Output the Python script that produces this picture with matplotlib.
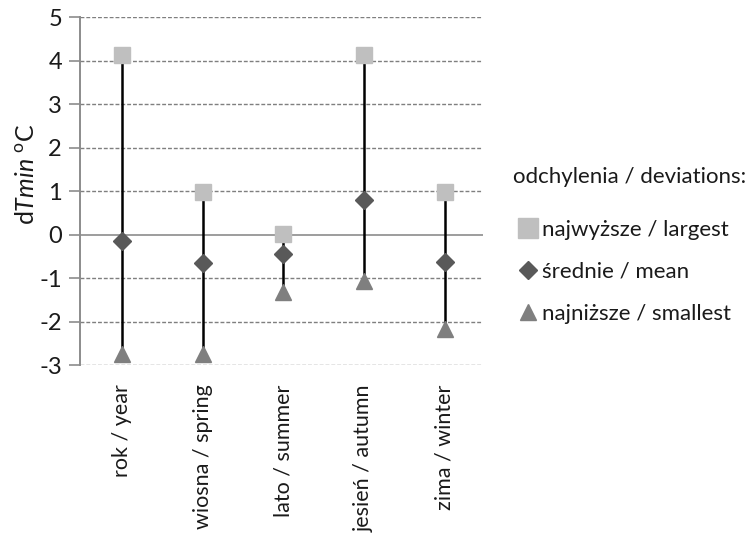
import matplotlib
matplotlib.use("Agg")
import matplotlib.pyplot as plt
from matplotlib.lines import Line2D

plt.rcParams["font.family"] = ["Lato", "DejaVu Sans"]
plt.rcParams["mathtext.fontset"] = "custom"
plt.rcParams["mathtext.rm"] = "Lato"
plt.rcParams["mathtext.it"] = "Lato:italic"
plt.rcParams["axes.unicode_minus"] = False

categories = ["rok / year", "wiosna / spring", "lato / summer", "jesień / autumn", "zima / winter"]
largest = [4.13, 0.97, 0.02, 4.13, 0.97]
mean = [-0.15, -0.66, -0.44, 0.79, -0.64]
smallest = [-2.74, -2.74, -1.32, -1.07, -2.17]

fig = plt.figure(figsize=(7.48, 5.36), dpi=100)
ax = fig.add_axes([0.107, 0.319, 0.539, 0.649])

x = list(range(len(categories)))

# gridlines
for yv in range(-3, 6):
    if yv == 0:
        continue
    ax.axhline(yv, color="#7f7f7f", lw=1, ls=(0, (2.8, 1.4)), zorder=0)
ax.axhline(0, color="#8c8c8c", lw=1.2, zorder=1)

# vertical range lines
ax.vlines(x, smallest, largest, color="black", lw=1.8, zorder=2)

ax.plot(x, largest, ls="none", marker="s", ms=12, color="#bfbfbf", zorder=3)
ax.plot(x, mean, ls="none", marker="D", ms=9, color="#595959", zorder=3)
ax.plot(x, smallest, ls="none", marker="^", ms=12, color="#7f7f7f", zorder=3)

ax.set_xlim(-0.52, 4.48)
ax.set_ylim(-3, 5)
ax.set_yticks(range(-3, 6))
ax.set_xticks(x)
ax.set_xticklabels(categories, rotation=90, fontsize=15.5, color="#1a1a1a")
ax.tick_params(axis="x", length=0, pad=14)
ax.tick_params(axis="y", length=8, width=1.2, color="#8c8c8c", labelsize=17,
               labelcolor="#1a1a1a", pad=5)

for s in ["top", "right", "bottom"]:
    ax.spines[s].set_visible(False)
ax.spines["left"].set_color("#8c8c8c")
ax.spines["left"].set_linewidth(1.4)

ax.set_ylabel(r"d$\mathit{Tmin}$ $^{\mathrm{o}}$C", fontsize=18, color="#1a1a1a", labelpad=4)
ax.yaxis.set_label_coords(-0.105, 0.55)

fig.text(513 / 748, 1 - 177 / 536, "odchylenia / deviations:", fontsize=16,
         color="#1a1a1a", ha="left", va="center")

handles = [
    Line2D([], [], ls="none", marker="s", ms=14, color="#bfbfbf"),
    Line2D([], [], ls="none", marker="D", ms=9, color="#595959"),
    Line2D([], [], ls="none", marker="^", ms=12, color="#7f7f7f"),
]
labels = ["najwyższe / largest", "średnie / mean", "najniższe / smallest"]
leg = fig.legend(handles, labels,
                 loc="upper left", bbox_to_anchor=(0.694, 0.590),
                 frameon=False, fontsize=16,
                 handlelength=0.8, handletextpad=0.25, labelspacing=1.0,
                 borderaxespad=0, borderpad=0)
for t in leg.get_texts():
    t.set_color("#1a1a1a")

fig.savefig("out.png", dpi=100)
